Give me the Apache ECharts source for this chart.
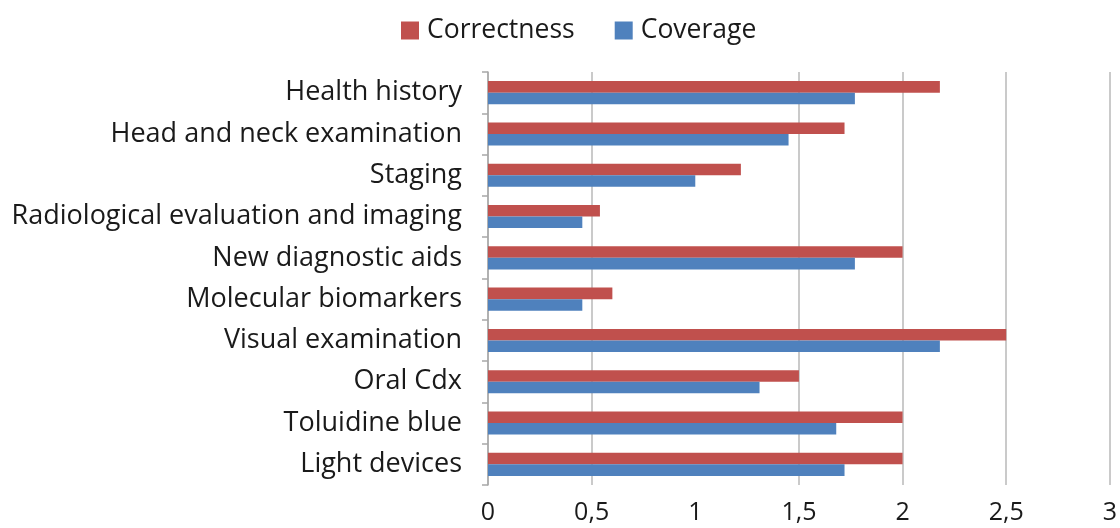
<!DOCTYPE html>
<html>
<head>
<meta charset="utf-8">
<script src="https://cdn.jsdelivr.net/npm/echarts@6/dist/echarts.min.js"></script>
<style>html,body{margin:0;padding:0;background:#fff;}#c{width:1120px;height:528px;}</style>
</head>
<body>
<div id="c"></div>
<script>
var categories = ['Health history','Head and neck examination','Staging','Radiological evaluation and imaging','New diagnostic aids','Molecular biomarkers','Visual examination','Oral Cdx','Toluidine blue','Light devices'];
var correctness = [2.18, 1.72, 1.22, 0.54, 2.0, 0.6, 2.5, 1.5, 2.0, 2.0];
var coverage = [1.77, 1.45, 1.0, 0.455, 1.77, 0.455, 2.18, 1.31, 1.68, 1.72];
var xTicks = [0, 0.5, 1, 1.5, 2, 2.5, 3];

var chart = echarts.init(document.getElementById('c'));
var font = '"Open Sans", Lato, sans-serif';
chart.setOption({
  animation: false,
  textStyle: {fontFamily: font},
  legend: {
    top: 12, left: 396,
    icon: 'rect',
    itemWidth: 18, itemHeight: 18, itemGap: 40,
    textStyle: {fontSize: 26.5, color: '#1a1a1a', fontFamily: font, padding: [0, 0, 0, 3]},
    data: ['Correctness', 'Coverage']
  },
  grid: {left: 488, right: 8, top: 72, bottom: 43, containLabel: false},
  xAxis: {
    type: 'value', min: 0, max: 3, interval: 0.5,
    axisLine: {show: false},
    axisTick: {show: false},
    axisLabel: {fontSize: 25, color: '#1a1a1a', margin: 15, fontFamily: font,
      formatter: function (v) { return String(v).replace('.', ','); }},
    splitLine: {show: true, lineStyle: {color: ['#b8b8b8', '#b8b8b8', 'rgba(0,0,0,0)', '#b8b8b8', '#b8b8b8', '#b8b8b8', '#b8b8b8'], width: 1.5}}
  },
  yAxis: {
    type: 'category', data: categories, inverse: true,
    axisLine: {show: true, lineStyle: {color: '#a8a8a8', width: 1.5}},
    axisTick: {show: true, length: 6, lineStyle: {color: '#a8a8a8', width: 1.5}},
    axisLabel: {fontSize: 27, color: '#1a1a1a', margin: 26, fontFamily: font}
  },
  series: [
    {name: 'Correctness', type: 'bar', data: correctness, barGap: '0%', barCategoryGap: '44%',
      itemStyle: {color: '#C0504D'}},
    {name: 'Coverage', type: 'bar', data: coverage, barGap: '0%', barCategoryGap: '44%',
      itemStyle: {color: '#4F81BD'}}
  ]
});
</script>
</body>
</html>
